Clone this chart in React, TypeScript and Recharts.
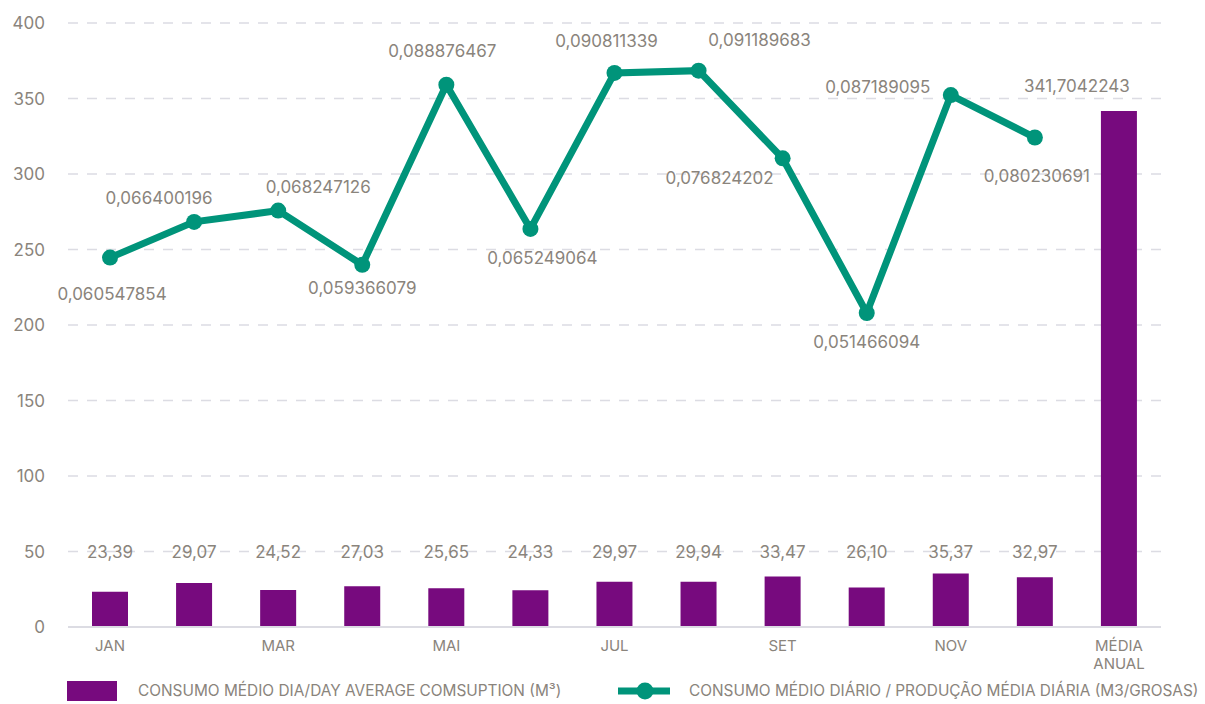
import React from 'react';
import { ComposedChart, Bar, Line, XAxis, YAxis, CartesianGrid, LabelList, Legend } from 'recharts';

const categories = ['JAN', 'FEV', 'MAR', 'ABR', 'MAI', 'JUN', 'JUL', 'AGO', 'SET', 'OUT', 'NOV', 'DEZ', 'MÉDIA ANUAL'];
const consumo = [23.39, 29.07, 24.52, 27.03, 25.65, 24.33, 29.97, 29.94, 33.47, 26.1, 35.37, 32.97, 341.7042243];
const razao = [
  0.060547854, 0.066400196, 0.068247126, 0.059366079, 0.088876467, 0.065249064,
  0.090811339, 0.091189683, 0.076824202, 0.051466094, 0.087189095, 0.080230691, null,
];
const yTicks = [0, 50, 100, 150, 200, 250, 300, 350, 400];
const barName = 'CONSUMO MÉDIO DIA/DAY AVERAGE COMSUPTION (M³)';
const lineName = 'CONSUMO MÉDIO DIÁRIO / PRODUÇÃO MÉDIA DIÁRIA (M3/GROSAS)';

// label placement (style only): offset of label centre from point
const lineLabelOffsets = [
  [2, 36], [-35, -24], [40, -24], [0, 23], [-4, -34], [12, 29],
  [-8, -32], [61, -31], [-63, 20], [0, 29], [-73, -8], [2, 38],
];

const PURPLE = '#770A7E';
const TEAL = '#00947A';
const TEXT = '#8A847C';
const GRID = '#DCDCE3';
const FONT = 'Inter, "Noto Sans", sans-serif';

const data = categories.map((c, i) => ({ cat: c, consumo: consumo[i], razao: razao[i] }));

const fmt = (v: number, d: number) => v.toFixed(d).replace('.', ',');

const BarLabel = (props: any) => {
  const { x, y, width, height, value, index } = props;
  if (value == null) return null;
  const last = index === categories.length - 1;
  const cx = x + width / 2 + (last ? -42 : 0);
  const cy = last ? y - 25 : y + height - 75;
  return (
    <text x={cx} y={cy} textAnchor="middle" dominantBaseline="central" fill={TEXT} fontSize={17} fontFamily={FONT}>
      {fmt(value, last ? 7 : 2)}
    </text>
  );
};

const LineLabel = (props: any) => {
  const { x, y, value, index } = props;
  if (value == null || x == null || y == null) return null;
  const [dx, dy] = lineLabelOffsets[index] || [0, -20];
  return (
    <text x={x + dx} y={y + dy} textAnchor="middle" dominantBaseline="central" fill={TEXT} fontSize={17} fontFamily={FONT}>
      {fmt(value, 9)}
    </text>
  );
};

const XTick = (props: any) => {
  const { x, y, payload } = props;
  const words = String(payload.value).split(' ');
  return (
    <text x={x} y={y} textAnchor="middle" fill={TEXT} fontSize={15} fontFamily={FONT}>
      {words.map((w, i) => (
        <tspan key={i} x={x} dy={i === 0 ? 24 : 18}>{w}</tspan>
      ))}
    </text>
  );
};

const LegendContent = () => (
  <div style={{ position: 'relative', width: 1205, height: 30, fontFamily: FONT, fontSize: 15.4, color: TEXT }}>
    <div style={{ position: 'absolute', left: 67, top: 5, width: 50, height: 20, background: PURPLE }} />
    <div style={{ position: 'absolute', left: 138, top: 6, lineHeight: '18px', whiteSpace: 'nowrap' }}>{barName}</div>
    <svg style={{ position: 'absolute', left: 618, top: 5 }} width={52} height={20}>
      <line x1={0} y1={10} x2={52} y2={10} stroke={TEAL} strokeWidth={7} />
      <circle cx={27} cy={10} r={8.5} fill={TEAL} />
    </svg>
    <div style={{ position: 'absolute', left: 689, top: 6, lineHeight: '18px', whiteSpace: 'nowrap' }}>{lineName}</div>
  </div>
);

export default function App() {
  return (
    <div style={{ position: 'absolute', left: 0, top: 0, width: 1205, height: 704, background: '#fff' }}>
      <ComposedChart width={1205} height={704} data={data} margin={{ top: 23, right: 44, bottom: 47, left: 0 }}>
        <CartesianGrid yAxisId="left" vertical={false} stroke={GRID} strokeDasharray="10 9" strokeWidth={1.5} />
        <XAxis
          dataKey="cat"
          interval={1}
          height={30}
          tickLine={false}
          tickSize={0}
          tickMargin={0}
          axisLine={{ stroke: GRID, strokeWidth: 2 }}
          tick={<XTick />}
        />
        <YAxis
          yAxisId="left"
          domain={[0, 400]}
          ticks={yTicks}
          width={68}
          axisLine={false}
          tickLine={false}
          tickSize={0}
          tickMargin={23}
          tick={{ fill: TEXT, fontSize: 17, fontFamily: FONT }}
        />
        <YAxis yAxisId="right" orientation="right" hide domain={[0, 0.099]} />
        <Bar yAxisId="left" dataKey="consumo" name={barName} fill={PURPLE} barSize={36} isAnimationActive={false}>
          <LabelList dataKey="consumo" content={<BarLabel />} />
        </Bar>
        <Line
          yAxisId="right"
          dataKey="razao"
          name={lineName}
          stroke={TEAL}
          strokeWidth={7}
          dot={{ r: 8, fill: TEAL, stroke: TEAL, strokeWidth: 0 }}
          activeDot={false}
          isAnimationActive={false}
        >
          <LabelList dataKey="razao" content={<LineLabel />} />
        </Line>
        <Legend
          layout="horizontal"
          verticalAlign="middle"
          align="center"
          content={<LegendContent />}
          wrapperStyle={{ position: 'absolute', left: 0, top: 676, width: 1205, height: 30 }}
        />
      </ComposedChart>
    </div>
  );
}
